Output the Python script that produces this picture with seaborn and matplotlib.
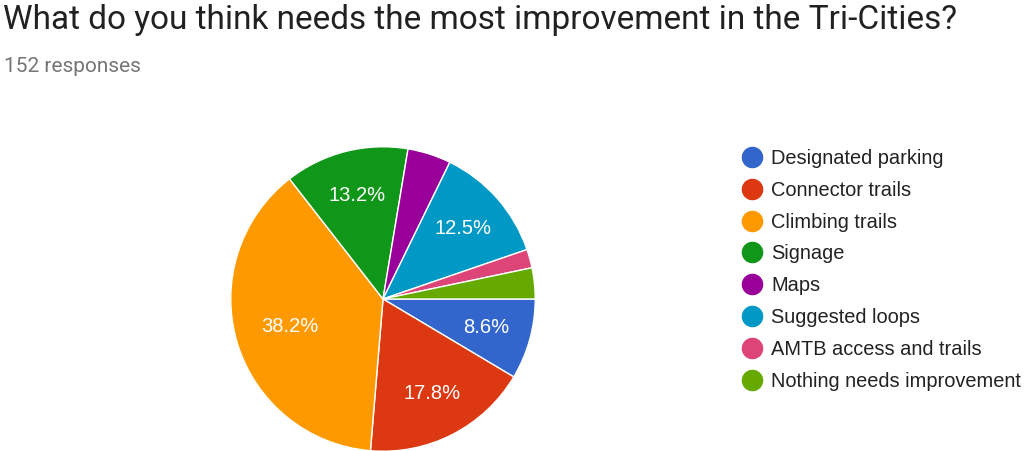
import matplotlib
matplotlib.use("Agg")
import matplotlib.pyplot as plt
import seaborn as sns
from matplotlib.lines import Line2D

sns.set_theme(style="white")
plt.rcParams['font.family'] = ['Liberation Sans', 'DejaVu Sans']

# Survey answers (152 responses)
categories = ['Designated parking', 'Connector trails', 'Climbing trails', 'Signage',
              'Maps', 'Suggested loops', 'AMTB access and trails', 'Nothing needs improvement']
counts = [13, 27, 58, 20, 7, 19, 3, 5]
colors = ['#3366cc', '#dc3912', '#ff9900', '#109618',
          '#990099', '#0099c6', '#dd4477', '#66aa00']
palette = sns.color_palette(colors)

fig = plt.figure(figsize=(10.24, 4.51), dpi=100)

# pie axes, square in pixels
ax = fig.add_axes([230 / 1024, (451 - 452) / 451, 306 / 1024, 306 / 451])


def pct(p):
    return f'{p:.1f}%' if p >= 5 else ''


wedges, texts, autotexts = ax.pie(counts, colors=palette, startangle=0, counterclock=False,
                                  autopct=pct, pctdistance=0.7,
                                  wedgeprops=dict(edgecolor='white', linewidth=1),
                                  textprops=dict(color='white', fontsize=14.5))
# the big slice's label sits a bit closer to the centre
x, y = autotexts[2].get_position()
autotexts[2].set_position((x * 0.91, y * 0.91))
ax.set_xlim(-1.005, 1.005)
ax.set_ylim(-1.005, 1.005)
ax.set_aspect('auto')

fig.text(3 / 1024, 1 - 20 / 451, 'What do you think needs the most improvement in the Tri-Cities?',
         fontsize=24, color='#212121', va='center', ha='left', family=['Roboto', 'DejaVu Sans'])
fig.text(4 / 1024, 1 - 67 / 451, '152 responses', fontsize=15, color='#757575',
         va='center', ha='left', family=['Roboto', 'DejaVu Sans'])

handles = [Line2D([], [], marker='o', linestyle='', markersize=14.5, color=c) for c in palette]
fig.legend(handles, categories, loc='upper left', bbox_to_anchor=(742 / 1024, 1 - 149 / 451),
           frameon=False, fontsize=14.4, labelspacing=0.64, handletextpad=0.45,
           handlelength=1.0, borderaxespad=0, borderpad=0, labelcolor='#222222')

fig.savefig('out.png', dpi=100, facecolor='white')
